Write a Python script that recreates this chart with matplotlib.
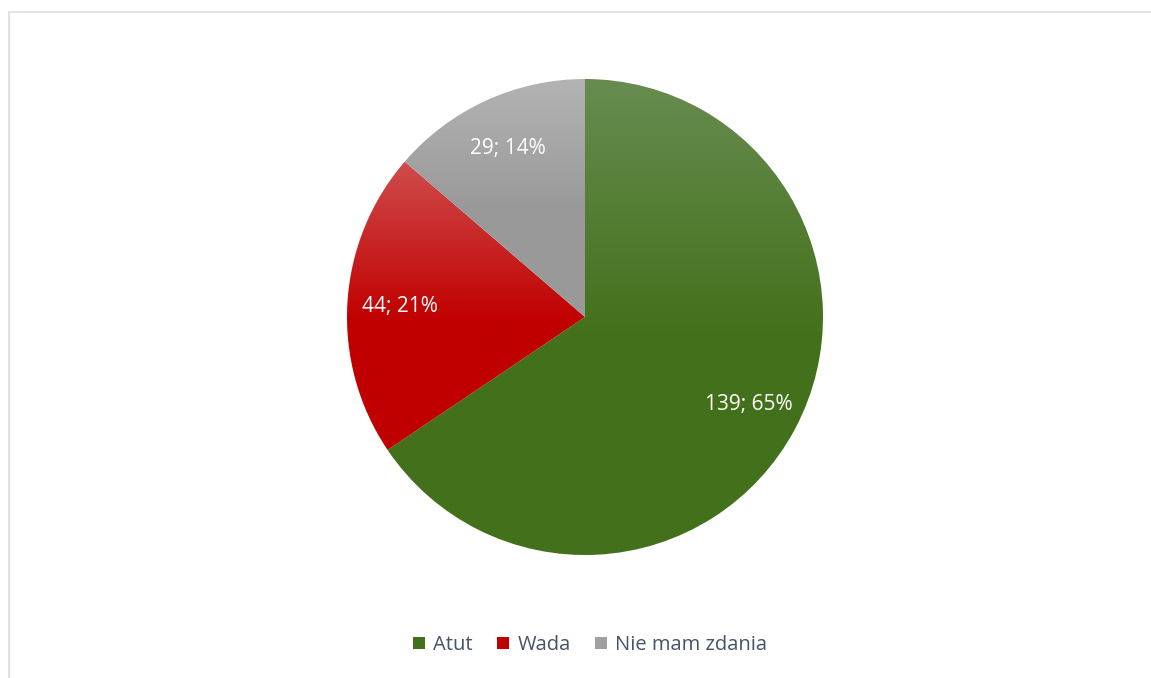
import numpy as np
import matplotlib
matplotlib.use("Agg")
import matplotlib.pyplot as plt
from matplotlib.patches import Rectangle, Patch
from matplotlib.colors import LinearSegmentedColormap

categories = ["Atut", "Wada", "Nie mam zdania"]
values = [139, 44, 29]
percents = ["65%", "21%", "14%"]

top_colors = ["#678c50", "#d04c4c", "#b3b3b3"]
base_colors = ["#43701a", "#c00000", "#999999"]
legend_colors = ["#43701a", "#c00000", "#a0a0a0"]

plt.rcParams['font.family'] = ['Open Sans', 'DejaVu Sans']

W, H = 1151, 678
fig = plt.figure(figsize=(W / 100, H / 100), dpi=100)
fig.patch.set_facecolor("white")

# chart border (light gray, cropped at right and bottom)
fig.add_artist(Rectangle((8.5 / W, -0.1), 1.2, (H - 11.5) / H + 0.1,
                         transform=fig.transFigure, fill=False,
                         edgecolor="#d9dde2", linewidth=1.2))

cx, cy, r = 585, 317, 238
ax = fig.add_axes([(cx - r) / W, (H - cy - r) / H, 2 * r / W, 2 * r / H])
ax.set_xlim(-1, 1)
ax.set_ylim(-1, 1)
ax.set_aspect("equal")
ax.axis("off")

wedges, _ = ax.pie(values, startangle=90, counterclock=False, radius=1,
                   colors=base_colors, wedgeprops=dict(linewidth=0))

for w, tc, bc in zip(wedges, top_colors, base_colors):
    bb = w.get_path().get_extents(w.get_patch_transform())
    cmap = LinearSegmentedColormap.from_list("g", [(0, tc), (0.55, bc), (1, bc)])
    grad = np.linspace(0, 1, 256).reshape(-1, 1)
    im = ax.imshow(grad, cmap=cmap, aspect="auto", origin="upper",
                   extent=[bb.x0, bb.x1, bb.y0, bb.y1], zorder=2)
    im.set_clip_path(w)
    w.set_facecolor("none")

ax.set_xlim(-1, 1)
ax.set_ylim(-1, 1)

for w, v, p in zip(wedges, values, percents):
    ang = np.deg2rad((w.theta1 + w.theta2) / 2)
    d = 0.78
    ax.text(d * np.cos(ang), d * np.sin(ang), f"{v}; {p}", ha="center",
            va="center", color="white", fontsize=15, zorder=5)

handles = [Patch(facecolor=c, edgecolor="none") for c in legend_colors]
leg = fig.legend(handles, categories, loc="center", bbox_to_anchor=(590 / W, 1 - 645 / H),
                 ncol=3, frameon=False, fontsize=14.5, handlelength=0.6,
                 handleheight=0.6, handletextpad=0.4, columnspacing=1.2)
for t in leg.get_texts():
    t.set_color("#44546a")

fig.savefig("out.png", dpi=100)
